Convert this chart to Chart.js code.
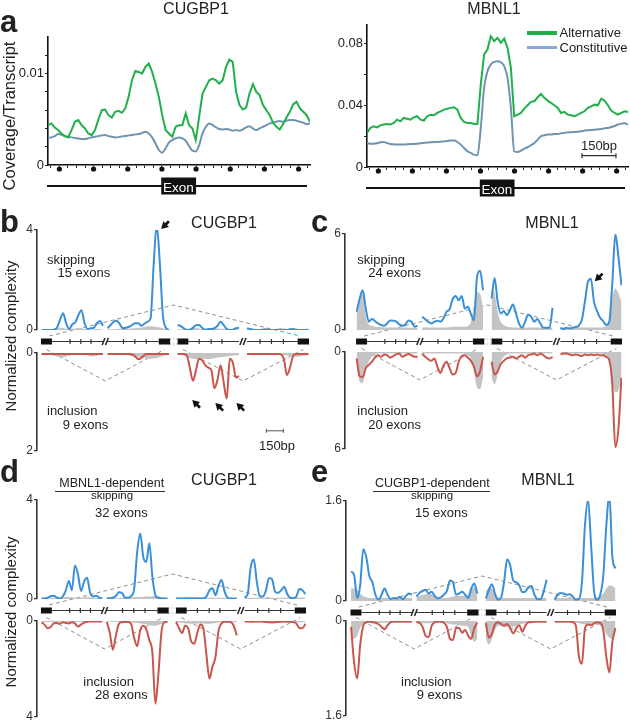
<!DOCTYPE html>
<html><head><meta charset="utf-8">
<script src="https://cdn.jsdelivr.net/npm/chart.js@4/dist/chart.umd.min.js"></script>
<style>
html,body{margin:0;padding:0;background:#fff;}
#fig{position:relative;width:630px;height:725px;overflow:hidden;font-family:"Liberation Sans",Arial,Helvetica,sans-serif;color:#222;}
#fig canvas{position:absolute;}
.t{position:absolute;white-space:nowrap;line-height:1;}
</style></head><body><div id="fig"></div>
<script>
// ===================== DATA =====================
// Panel a: coverage per transcript, sampled evenly from -500 bp to +650 bp around the exon start
const aRangeBp = [-500, 650];
const cugbp1Alternative = [0.00436,0.00455,0.00411,0.00382,0.00345,0.00316,0.00302,0.00382,0.00473,0.00491,
 0.00436,0.0040,0.00345,0.00327,0.00382,0.00498,0.0060,0.00607,0.00545,0.0052,
 0.00582,0.00593,0.00571,0.00618,0.00745,0.00927,0.01029,0.01018,0.0100,0.01073,
 0.01109,0.01018,0.00891,0.00745,0.00545,0.00382,0.00345,0.00309,0.00418,0.00436,
 0.00436,0.00564,0.00436,0.0040,0.00273,0.00527,0.00782,0.00855,0.00927,0.00945,
 0.00927,0.00891,0.00927,0.01073,0.01153,0.01127,0.0080,0.00655,0.00607,0.00629,
 0.00782,0.00884,0.0080,0.00764,0.00655,0.0060,0.00545,0.00462,0.00418,0.00389,
 0.00447,0.0052,0.00582,0.00665,0.00691,0.00618,0.00582,0.00545,0.00473];
const cugbp1Constitutive = [0.00298,0.00302,0.00316,0.00338,0.00331,0.00316,0.00309,0.00302,0.00295,0.00291,
 0.00284,0.00284,0.00291,0.00302,0.00309,0.00316,0.00324,0.00327,0.00316,0.00309,
 0.00302,0.00305,0.00313,0.00316,0.00324,0.00327,0.00335,0.00338,0.00349,0.00364,
 0.00345,0.00302,0.00236,0.00164,0.00135,0.00182,0.00244,0.00273,0.00291,0.00302,
 0.00291,0.00265,0.00207,0.00156,0.00149,0.00218,0.00345,0.00418,0.00455,0.00436,
 0.00411,0.00393,0.00389,0.00393,0.00389,0.00375,0.00382,0.00375,0.00389,0.00411,
 0.00425,0.0040,0.00382,0.0040,0.00418,0.00436,0.00455,0.00462,0.00473,0.0048,
 0.00473,0.00484,0.00491,0.00491,0.00484,0.00473,0.00462,0.00447,0.00455];
const mbnl1Alternative = [0.0221,0.0253,0.0264,0.0257,0.0270,0.0275,0.0279,0.0275,0.0285,0.0307,
 0.0296,0.0318,0.0313,0.0307,0.0322,0.0329,0.0307,0.0301,0.0329,0.0339,
 0.0335,0.0350,0.0361,0.0372,0.0378,0.0383,0.0387,0.0372,0.0318,0.0292,
 0.0285,0.0285,0.0279,0.0279,0.0534,0.0729,0.0761,0.0848,0.0815,0.0837,
 0.0804,0.0832,0.0772,0.0642,0.0329,0.0339,0.0350,0.0378,0.0400,0.0422,
 0.0426,0.0452,0.0473,0.0448,0.0430,0.0415,0.0400,0.0383,0.0350,0.0357,
 0.0339,0.0335,0.0329,0.0339,0.0350,0.0361,0.0383,0.0393,0.0404,0.0400,
 0.0443,0.0430,0.0400,0.0365,0.0350,0.0339,0.0350,0.0361,0.0357];
const mbnl1Constitutive = [0.0156,0.0151,0.0151,0.0154,0.0160,0.0162,0.0156,0.0149,0.0147,0.0145,
 0.0145,0.0145,0.0147,0.0149,0.0149,0.0151,0.0154,0.0156,0.0158,0.0160,
 0.0162,0.0162,0.0164,0.0166,0.0169,0.0171,0.0171,0.0162,0.0145,0.0123,
 0.0102,0.0091,0.0080,0.0076,0.0253,0.0512,0.0621,0.0664,0.0681,0.0685,
 0.0679,0.0653,0.0577,0.0383,0.0102,0.0097,0.0106,0.0119,0.0128,0.0141,
 0.0156,0.0177,0.0199,0.0205,0.0210,0.0210,0.0214,0.0214,0.0218,0.0221,
 0.0225,0.0225,0.0227,0.0229,0.0231,0.0236,0.0238,0.0240,0.0242,0.0244,
 0.0246,0.0251,0.0253,0.0259,0.0266,0.0275,0.0281,0.0283,0.0275];
const aLeftTicks = [0,0.002,0.004,0.006,0.008,0.01,0.012];
const aLeftTickLabels = ['0','','','','','0.01',''];
const aRightTicks = [0,0.02,0.04,0.06,0.08];
const aRightTickLabels = ['0','','0.04','','0.08'];
const aLegend = ['Alternative','Constitutive'];

// Panels b-e: normalized complexity, 4 regions (upstream exon/intron, intron/alt exon, alt exon/intron, intron/downstream exon)
// each region sampled evenly with 21 points
const bSkipping = [
 [0,0,0,0,0.01,0.09,0.4,0.67,0.27,0.04,0.23,0.31,0.6,0.79,0.27,0.04,0.07,0.09,0.27,0.36,0.17],
 [0.07,0.2,0.33,0.37,0.23,0.07,0.09,0.13,0.2,0.27,0.27,0.17,0.25,0.33,0.47,2.6,4.2,2.7,0.6,0.09,0],
 [0.2,0.16,0.07,0,0.01,0.09,0.19,0.2,0.09,0.01,0.04,0.04,0.07,0.17,0.33,0.2,0.04,0,0.01,0.07,0.09],
 [0.07,0.04,0.01,0,0,0.01,0.03,0.01,0,0,0.01,0.02,0.01,0,0.03,0.04,0.01,0,0,0,0.01]];
const bSkippingBackground = [
 [0,0,0.01,0.03,0.05,0.08,0.1,0.08,0.05,0.04,0.05,0.06,0.08,0.07,0.04,0.02,0.02,0.03,0.04,0.03,0.02],
 [0.02,0.03,0.03,0.04,0.05,0.06,0.05,0.05,0.06,0.07,0.08,0.1,0.12,0.15,0.15,0.14,0.12,0.1,0.07,0.04,0.02],
 [0.03,0.03,0.04,0.05,0.06,0.08,0.07,0.06,0.05,0.05,0.06,0.07,0.07,0.06,0.05,0.05,0.04,0.03,0.03,0.03,0.03],
 [0.02,0.02,0.02,0.02,0.02,0.02,0.03,0.03,0.03,0.02,0.02,0.03,0.03,0.04,0.05,0.05,0.05,0.04,0.03,0.03,0.03]];
const bInclusion = [
 [0.02,0.02,0.02,0.02,0.02,0.02,0.02,0.02,0.02,0.02,0.02,0.02,0.02,0.02,0.02,0.02,0.02,0.02,0.02,0.02,0.02],
 [0.02,0.02,0.02,0.02,0.02,0.02,0.02,0.02,0.03,0.07,0.13,0.1,0.04,0.02,0.02,0.02,0.02,0.02,0.02,0.02,0.02],
 [0.02,0.02,0.02,0.05,0.3,0.57,0.35,0.12,0.15,0.25,0.3,0.35,0.72,0.55,0.25,0.6,0.93,0.12,0.2,0.5,0.47],
 [0.02,0.02,0.02,0.02,0.02,0.02,0.02,0.02,0.02,0.02,0.02,0.03,0.12,0.45,0.3,0.06,0.02,0.02,0.02,0.02,0.02]];
const bInclusionBackground = [
 [0.01,0.02,0.03,0.04,0.05,0.07,0.09,0.09,0.07,0.05,0.04,0.04,0.04,0.03,0.04,0.05,0.07,0.07,0.05,0.03,0.02],
 [0.02,0.02,0.03,0.03,0.03,0.04,0.04,0.05,0.06,0.07,0.08,0.09,0.1,0.12,0.12,0.11,0.1,0.08,0.06,0.04,0.03],
 [0.02,0.03,0.05,0.08,0.1,0.12,0.13,0.13,0.12,0.12,0.13,0.12,0.1,0.09,0.08,0.08,0.07,0.06,0.05,0.05,0.04],
 [0.02,0.02,0.02,0.02,0.02,0.03,0.03,0.03,0.03,0.03,0.03,0.03,0.04,0.05,0.06,0.07,0.08,0.07,0.06,0.05,0.04]];

const cSkipping = [
 [1.14,1.97,2.48,1.34,0.52,0.68,0.56,0.41,0.31,0.27,0.41,0.6,0.58,0.52,0.35,0.27,0.35,0.6,0.52,0.21,0.27],
 [0.83,0.68,0.52,0.41,0.52,0.58,0.52,0.72,1.14,1.3,1.92,2.13,1.86,2.13,1.34,1.45,1.0,0.6,3.3,3.7,2.48],
 [1.97,3.25,1.76,1.03,1.18,0.93,1.24,1.59,1.03,0.41,0.14,0.52,0.97,0.83,0.52,0.68,0.41,0.14,0.14,0.14,1.39],
 [0.14,0.06,0.14,0.1,0.14,0.19,0.27,0.62,1.76,3.0,3.2,1.76,1.18,0.77,0.56,0.31,0.5,2.9,6.0,4.6,2.8]];
const cSkippingBackground = [
 [0.93,2.07,2.28,0.83,0.35,0.27,0.2,0.18,0.17,0.16,0.15,0.15,0.15,0.15,0.15,0.15,0.15,0.14,0.14,0.14,0.14],
 [0.15,0.15,0.15,0.15,0.15,0.15,0.15,0.15,0.16,0.17,0.2,0.2,0.2,0.2,0.2,0.25,0.52,1.55,2.38,2.28,1.34],
 [2.59,2.28,1.14,0.52,0.31,0.2,0.17,0.16,0.15,0.15,0.15,0.15,0.15,0.15,0.15,0.15,0.15,0.15,0.15,0.15,0.15],
 [0.15,0.15,0.15,0.15,0.15,0.15,0.15,0.15,0.15,0.15,0.15,0.15,0.15,0.15,0.17,0.25,0.52,1.97,2.59,2.28,1.76]];
const cInclusion = [
 [0.4,1.5,1.55,1.0,0.8,0.6,0.35,0.2,0.3,0.15,0.2,0.35,0.25,0.15,0.1,0.3,0.2,0.12,0.2,0.3,0.3],
 [0.1,0.3,0.45,0.55,0.4,0.9,1.3,0.85,0.6,1.0,1.4,1.3,0.6,0.25,0.2,0.35,0.55,0.9,1.5,1.2,0.3],
 [0.6,1.4,1.2,0.75,0.55,0.4,0.35,0.3,0.4,0.3,0.2,0.35,0.2,0.15,0.1,0.2,0.1,0.2,0.35,0.4,0.3],
 [0.15,0.1,0.1,0.15,0.2,0.15,0.2,0.25,0.15,0.2,0.15,0.2,0.15,0.2,0.2,0.3,0.5,2.0,5.9,4.8,1.6]];
const cInclusionBackground = [
 [0.8,1.83,1.93,1.12,0.6,0.3,0.15,0.1,0.1,0.1,0.1,0.1,0.1,0.1,0.1,0.1,0.1,0.1,0.1,0.1,0.1],
 [0.1,0.1,0.1,0.1,0.1,0.1,0.1,0.1,0.1,0.1,0.1,0.1,0.1,0.1,0.12,0.2,0.4,1.2,2.2,2.3,1.6],
 [1.6,2.0,1.4,0.6,0.3,0.15,0.1,0.1,0.1,0.1,0.1,0.1,0.1,0.1,0.1,0.1,0.1,0.1,0.1,0.1,0.1],
 [0.1,0.1,0.1,0.1,0.1,0.1,0.1,0.1,0.1,0.1,0.1,0.1,0.1,0.1,0.12,0.2,0.5,2.0,2.5,2.4,1.6]];

const dSkipping = [
 [0.02,0.02,0.05,0.11,0.13,0.06,0.02,0.1,0.35,0.73,0.35,1.35,1.0,0.32,0.7,0.86,0.25,0.1,0.13,0.05,0.02],
 [0.03,0.03,0.05,0.12,0.27,0.25,0.05,0.05,0.12,0.4,1.9,2.65,1.7,1.5,2.25,0.9,0.15,0.05,0.02,0.02,0.02],
 [0.02,0.02,0.02,0.02,0.02,0.02,0.02,0.02,0.02,0.03,0.1,0.35,0.43,0.15,0.55,0.77,0.3,0.05,0.02,0.02,0.02],
 [0.05,0.2,1.3,1.6,0.7,0.1,0.1,0.35,0.85,0.8,0.3,0.25,0.35,0.5,0.2,0.05,0.03,0.1,0.4,0.35,0.2]];
const dSkippingBackground = [
 [0.02,0.02,0.02,0.03,0.04,0.05,0.06,0.07,0.08,0.08,0.07,0.06,0.06,0.05,0.06,0.07,0.06,0.05,0.04,0.03,0.02],
 [0.02,0.02,0.03,0.03,0.04,0.05,0.05,0.06,0.06,0.07,0.08,0.08,0.09,0.1,0.1,0.11,0.12,0.1,0.07,0.05,0.03],
 [0.03,0.04,0.05,0.06,0.07,0.08,0.08,0.07,0.06,0.05,0.05,0.05,0.05,0.05,0.05,0.05,0.04,0.04,0.04,0.04,0.04],
 [0.04,0.04,0.05,0.05,0.05,0.05,0.05,0.05,0.05,0.05,0.05,0.05,0.05,0.05,0.05,0.05,0.05,0.06,0.06,0.06,0.05]];
const dInclusion = [
 [0.05,0.15,0.3,0.25,0.1,0.08,0.12,0.05,0.08,0.1,0.05,0.1,0.23,0.15,0.07,0.03,0.02,0.02,0.02,0.02,0.02],
 [0.03,0.5,1.2,0.6,0.12,0.05,0.04,0.04,0.12,0.7,1.05,0.4,0.2,0.35,0.8,1.3,3.45,2.2,0.45,0.05,0.03],
 [0.03,0.3,0.5,0.2,0.3,0.85,0.95,0.5,0.15,0.3,1.4,2.4,1.9,1.5,0.4,0.1,0.03,0.03,0.05,0.2,0.6],
 [0.02,0.02,0.03,0.03,0.02,0.02,0.03,0.04,0.05,0.06,0.05,0.04,0.03,0.02,0.02,0.03,0.05,0.1,0.3,0.3,0.12]];
const dInclusionBackground = [
 [0.03,0.04,0.05,0.05,0.05,0.04,0.04,0.05,0.05,0.05,0.05,0.04,0.04,0.04,0.04,0.04,0.03,0.03,0.03,0.03,0.03],
 [0.03,0.03,0.03,0.04,0.04,0.05,0.05,0.05,0.06,0.07,0.08,0.1,0.12,0.15,0.18,0.2,0.2,0.17,0.12,0.08,0.05],
 [0.05,0.06,0.08,0.1,0.1,0.12,0.12,0.1,0.1,0.1,0.12,0.12,0.1,0.08,0.06,0.05,0.05,0.05,0.05,0.05,0.05],
 [0.03,0.03,0.03,0.03,0.03,0.03,0.03,0.03,0.03,0.04,0.04,0.04,0.05,0.06,0.07,0.08,0.08,0.07,0.06,0.05,0.04]];

const eSkipping = [
 [0.47,0.42,0.05,0.25,0.83,0.7,0.4,0.3,0.1,0.02,0.1,0.2,0.1,0.03,0.05,0.04,0.07,0.03,0.08,0.12,0.1],
 [0.07,0.13,0.16,0.18,0.12,0.15,0.08,0.04,0.06,0.1,0.16,0.33,0.3,0.1,0.12,0.15,0.1,0.05,0.2,0.28,0.12],
 [0.04,0.17,0.27,0.12,0.02,0.05,0.3,0.67,0.57,0.33,0.3,0.25,0.14,0.15,0.22,0.24,0.1,0.03,0.03,0.15,0.34],
 [0.02,0.1,0.13,0.12,0.1,0.11,0.07,0.02,0.03,0.3,1.22,1.62,0.9,0.15,0.02,0.1,0.4,1.2,1.72,0.7,0.52]];
const eSkippingBackground = [
 [0.2,0.2,0.18,0.12,0.08,0.06,0.05,0.05,0.05,0.05,0.05,0.05,0.05,0.05,0.05,0.05,0.05,0.05,0.05,0.05,0.05],
 [0.06,0.08,0.1,0.11,0.12,0.11,0.09,0.07,0.06,0.05,0.05,0.06,0.07,0.08,0.08,0.08,0.08,0.1,0.18,0.22,0.18],
 [0.15,0.22,0.2,0.12,0.06,0.05,0.05,0.05,0.05,0.05,0.05,0.05,0.05,0.05,0.05,0.05,0.05,0.05,0.05,0.05,0.05],
 [0.05,0.05,0.05,0.05,0.05,0.05,0.05,0.05,0.05,0.05,0.05,0.05,0.05,0.05,0.06,0.08,0.12,0.2,0.25,0.24,0.2]];
const eInclusion = [
 [0.1,0.7,0.97,0.4,0.08,0.02,0.01,0.02,0.03,0.05,0.1,0.14,0.07,0.02,0.01,0.01,0.01,0.01,0.01,0.01,0.01],
 [0.01,0.03,0.1,0.25,0.27,0.08,0.02,0.01,0.01,0.03,0.1,0.3,0.32,0.12,0.12,0.2,0.15,0.25,0.3,0.12,0.03],
 [0.03,0.28,0.22,0.06,0.02,0.05,0.08,0.05,0.12,0.21,0.12,0.07,0.18,0.08,0.02,0.02,0.01,0.01,0.01,0.01,0.01],
 [0.01,0.01,0.01,0.01,0.01,0.01,0.02,0.08,0.6,0.72,0.12,0.06,0.07,0.04,0.02,0.03,0.15,0.6,0.87,0.35,0.12]];
const eInclusionBackground = [
 [0.25,0.3,0.25,0.12,0.06,0.04,0.03,0.03,0.03,0.03,0.03,0.03,0.03,0.03,0.03,0.03,0.03,0.03,0.03,0.03,0.03],
 [0.05,0.05,0.04,0.04,0.04,0.04,0.03,0.03,0.03,0.03,0.04,0.05,0.06,0.06,0.07,0.08,0.08,0.1,0.25,0.35,0.3],
 [0.3,0.4,0.3,0.15,0.08,0.08,0.1,0.1,0.1,0.1,0.08,0.06,0.05,0.04,0.03,0.03,0.03,0.03,0.03,0.03,0.03],
 [0.03,0.03,0.03,0.03,0.03,0.03,0.03,0.03,0.04,0.05,0.05,0.05,0.05,0.05,0.06,0.08,0.1,0.22,0.28,0.3,0.2]];

const bTicks = {upper:[0,4], lower:[0,2]};
const cTicks = {upper:[0,6], lower:[0,6]};
const dTicks = {upper:[0,4], lower:[0,4]};
const eTicks = {upper:[0,1.6], lower:[0,1.6]};

// ===================== LAYOUT / STYLE =====================
const GREEN = '#1fb04b', CONSTC = '#6f94b0', LEGCON = '#8aaad6', BLUE = '#3a90d8', RED = '#c9564c', GRAY = '#c4c4c4', INK = '#222';
const A_EXON = [-3, 150];               // bp, exon in panel a
const A_TICKS = []; for (let v = -487.5; v < 650; v += 37.5) A_TICKS.push(v);
const SEG_START = [0, 580, 1195, 1805], SEG_LEN = 540, X_MAX = 2350;
const EXON_BOX = [[-5, 92], [1030, 1130], [1195, 1290], [2250, 2350]];
const INTRONS = [[92, 540], [580, 1030], [1290, 1735], [1805, 2250]];
const INTRON_TICKS = [250, 345, 435, 720, 820, 920, 1385, 1490, 1585, 1920, 2020, 2125];
const BREAKS = [560, 1770];

Chart.defaults.font.family = '"Liberation Sans", Arial, Helvetica, sans-serif';
const fig = document.getElementById('fig');

function mkCanvas(l, t, w, h) {
  const c = document.createElement('canvas');
  c.width = w; c.height = h;
  c.style.left = l + 'px'; c.style.top = t + 'px';
  c.style.width = w + 'px'; c.style.height = h + 'px';
  fig.appendChild(c); return c;
}
function line(ctx, x0, y0, x1, y1) { ctx.beginPath(); ctx.moveTo(x0, y0); ctx.lineTo(x1, y1); ctx.stroke(); }
function drawArrow(ctx, tx, ty, ux, uy) {
  const L = Math.hypot(ux, uy); ux /= L; uy /= L;
  const px = -uy, py = ux;
  ctx.fillStyle = '#111'; ctx.strokeStyle = '#111';
  ctx.beginPath(); ctx.moveTo(tx, ty);
  ctx.lineTo(tx + ux * 7 + px * 4, ty + uy * 7 + py * 4);
  ctx.lineTo(tx + ux * 7 - px * 4, ty + uy * 7 - py * 4);
  ctx.closePath(); ctx.fill();
  ctx.lineWidth = 2.6; line(ctx, tx + ux * 5, ty + uy * 5, tx + ux * 11, ty + uy * 11);
}

function evenPoints(vals, range) {
  return vals.map((v, i) => ({x: range[0] + i * (range[1] - range[0]) / (vals.length - 1), y: v}));
}
function segPoints(segs) {
  const pts = [];
  segs.forEach((vals, s) => {
    vals.forEach((v, i) => pts.push({x: SEG_START[s] + i * SEG_LEN / (vals.length - 1), y: v}));
    if (s < segs.length - 1) pts.push({x: SEG_START[s] + SEG_LEN + 1, y: null});
  });
  return pts;
}

// ===================== PANEL a =====================
function aChart(o) {
  const cv = mkCanvas(o.left, o.top, o.w, o.h);
  return new Chart(cv, {
    type: 'line',
    data: {datasets: [
      {label: aLegend[0], data: evenPoints(o.alt, aRangeBp), borderColor: GREEN, borderWidth: 2, tension: 0, fill: false},
      {label: aLegend[1], data: evenPoints(o.con, aRangeBp), borderColor: CONSTC, borderWidth: 2, cubicInterpolationMode: 'monotone', fill: false}
    ]},
    options: {
      responsive: false, animation: false, devicePixelRatio: 1, maintainAspectRatio: false,
      layout: {padding: {top: o.padTop, right: o.padRight, bottom: 0, left: 0}},
      plugins: {legend: {display: false}, tooltip: {enabled: false}},
      elements: {point: {radius: 0}},
      scales: {
        x: {type: 'linear', min: aRangeBp[0], max: aRangeBp[1],
            afterBuildTicks: s => { s.ticks = A_TICKS.map(v => ({value: v})); },
            afterFit: s => { s.height = 35; },
            ticks: {display: false, autoSkip: false},
            grid: {drawOnChartArea: false, drawTicks: true, tickLength: 3, color: '#222', lineWidth: 1},
            border: {color: '#111', width: 1.6}},
        y: {type: 'linear', min: 0, max: o.yMax,
            afterBuildTicks: s => { s.ticks = o.ticks.map(v => ({value: v})); },
            afterFit: s => { s.width = o.yW; },
            ticks: {callback: (v, i) => o.labels[i], font: {size: 13}, color: '#222', padding: 1, autoSkip: false},
            grid: {drawOnChartArea: false, drawTicks: true, tickLength: 3, color: '#222', lineWidth: 1},
            border: {color: '#111', width: 1.6}}
      }
    },
    plugins: [{id: 'aDecor', afterDraw(chart) {
      const {ctx, chartArea: a, scales: {x}} = chart;
      ctx.save();
      ctx.fillStyle = '#111';
      A_TICKS.filter(v => v % 150 === 0).forEach(v => {
        ctx.beginPath(); ctx.arc(x.getPixelForValue(v), a.bottom + 4, 2.6, 0, Math.PI * 2); ctx.fill();
      });
      const yR = a.bottom + 21;
      ctx.strokeStyle = '#111'; ctx.lineWidth = 2;
      line(ctx, a.left - 1, yR, a.right - 3, yR);
      const x0 = x.getPixelForValue(A_EXON[0]), x1 = x.getPixelForValue(A_EXON[1]);
      ctx.fillRect(x0, yR - 8.5, x1 - x0, 17);
      if (o.scaleBar) {
        const y = a.bottom - 11.3, s0 = x.getPixelForValue(o.scaleBar), s1 = x.getPixelForValue(o.scaleBar + 150);
        ctx.strokeStyle = '#333'; ctx.lineWidth = 1.2;
        line(ctx, s0, y, s1, y); line(ctx, s0, y - 2.5, s0, y + 2.5); line(ctx, s1, y - 2.5, s1, y + 2.5);
      }
      ctx.restore();
    }}]
  });
}
aChart({left: 0, top: 20, w: 315, h: 180, padTop: 17, padRight: 5, yW: 48, yMax: 0.014,
        ticks: aLeftTicks, labels: aLeftTickLabels, alt: cugbp1Alternative, con: cugbp1Constitutive});
aChart({left: 315, top: 8, w: 315, h: 194, padTop: 17, padRight: 2, yW: 52, yMax: 0.092,
        ticks: aRightTicks, labels: aRightTickLabels, alt: mbnl1Alternative, con: mbnl1Constitutive, scaleBar: 447});

// ===================== PANELS b-e =====================
const PANELS = [
  {skip: bSkipping, skipBg: bSkippingBackground, incl: bInclusion, inclBg: bInclusionBackground, ticks: bTicks,
   axisX: 37, xMin: -40, areaW: 272, up: [230, 330], lo: [353, 451],
   arrowsUp: [{x: 1051, y: 4.04, d: [1, -1]}],
   arrowsLo: [{x: 1324, y: 0.96, d: [1, 1]}, {x: 1527, y: 1.02, d: [1, 1]}, {x: 1712, y: 1.02, d: [1, 1]}],
   scaleBar: 1975},
  {skip: cSkipping, skipBg: cSkippingBackground, incl: cInclusion, inclBg: cInclusionBackground, ticks: cTicks,
   axisX: 345, xMin: -103, areaW: 277, up: [234, 330], lo: [352, 449],
   arrowsUp: [{x: 2109, y: 3.04, d: [1, -1]}], arrowsLo: []},
  {skip: dSkipping, skipBg: dSkippingBackground, incl: dInclusion, inclBg: dInclusionBackground, ticks: dTicks,
   axisX: 37, xMin: -40, areaW: 269, up: [500, 599], lo: [621, 717], arrowsUp: [], arrowsLo: []},
  {skip: eSkipping, skipBg: eSkippingBackground, incl: eInclusion, inclBg: eInclusionBackground, ticks: eTicks,
   axisX: 346, xMin: -45, areaW: 270, up: [501, 601], lo: [621, 716], arrowsUp: [], arrowsLo: []}
];

function upperDecor(P) {
  return {id: 'upDecor',
    beforeDatasetsDraw(chart) {
      const {ctx, chartArea: a, scales: {x}} = chart;
      ctx.save(); ctx.setLineDash([4, 3]); ctx.strokeStyle = '#8f8f8f'; ctx.lineWidth = 1;
      ctx.beginPath();
      ctx.moveTo(x.getPixelForValue(EXON_BOX[0][1] - 25), a.bottom + 6);
      ctx.lineTo(x.getPixelForValue((EXON_BOX[1][1] + EXON_BOX[2][0]) / 2), a.bottom - 25);
      ctx.lineTo(x.getPixelForValue(EXON_BOX[3][0] + 20), a.bottom + 6);
      ctx.stroke(); ctx.restore();
    },
    afterDraw(chart) {
      const {ctx, chartArea: a, scales: {x, y}} = chart;
      const px = v => x.getPixelForValue(v);
      const yr = a.bottom + 11.5;
      ctx.save();
      ctx.strokeStyle = '#333'; ctx.lineWidth = 1.2;
      INTRONS.forEach(([s, e]) => line(ctx, px(s), yr, px(e), yr));
      INTRON_TICKS.forEach(t => line(ctx, px(t), yr - 2.5, px(t), yr + 2.5));
      ctx.lineWidth = 1.5; ctx.strokeStyle = '#222';
      BREAKS.forEach(b => { const c = px(b); [-1.7, 1.7].forEach(d => line(ctx, c + d - 1.4, yr + 3.5, c + d + 1.4, yr - 3.5)); });
      ctx.setLineDash([1, 2]); ctx.strokeStyle = '#999'; ctx.lineWidth = 1;
      line(ctx, px(EXON_BOX[1][1]), yr - 2.5, px(EXON_BOX[2][0]), yr - 2.5);
      line(ctx, px(EXON_BOX[1][1]), yr + 2.5, px(EXON_BOX[2][0]), yr + 2.5);
      ctx.setLineDash([]);
      ctx.fillStyle = '#111';
      EXON_BOX.forEach(([s, e]) => ctx.fillRect(px(s), yr - 3, px(e) - px(s), 6));
      P.arrowsUp.forEach(ar => drawArrow(ctx, px(ar.x), y.getPixelForValue(ar.y), ar.d[0], ar.d[1]));
      ctx.restore();
    }};
}
function lowerDecor(P) {
  return {id: 'loDecor',
    beforeDatasetsDraw(chart) {
      const {ctx, chartArea: a, scales: {x}} = chart;
      const px = v => x.getPixelForValue(v);
      const mid = b => (b[0] + b[1]) / 2;
      ctx.save(); ctx.setLineDash([4, 3]); ctx.strokeStyle = '#8f8f8f'; ctx.lineWidth = 1;
      [[EXON_BOX[0], BREAKS[0], EXON_BOX[1]], [EXON_BOX[2], BREAKS[1], EXON_BOX[3]]].forEach(([b0, br, b1]) => {
        ctx.beginPath();
        ctx.moveTo(px(mid(b0)), a.top - 3.5);
        ctx.lineTo(px(br), a.top + 28);
        ctx.lineTo(px(mid(b1)), a.top - 3.5);
        ctx.stroke();
      });
      ctx.restore();
    },
    afterDraw(chart) {
      const {ctx, chartArea: a, scales: {x, y}} = chart;
      const px = v => x.getPixelForValue(v);
      ctx.save();
      P.arrowsLo.forEach(ar => drawArrow(ctx, px(ar.x), y.getPixelForValue(ar.y), ar.d[0], ar.d[1]));
      if (P.scaleBar) {
        const yy = a.bottom - 20, s0 = px(P.scaleBar), s1 = px(P.scaleBar + 150);
        ctx.strokeStyle = '#555'; ctx.lineWidth = 1;
        line(ctx, s0, yy, s1, yy); line(ctx, s0, yy - 2, s0, yy + 2); line(ctx, s1, yy - 2, s1, yy + 2);
      }
      ctx.restore();
    }};
}
function panelConfig(P, up) {
  const ticks = up ? P.ticks.upper : P.ticks.lower;
  return {
    type: 'line',
    data: {datasets: [
      {label: up ? 'skipping' : 'inclusion', data: segPoints(up ? P.skip : P.incl), borderColor: up ? BLUE : RED,
       borderWidth: 2, fill: false, cubicInterpolationMode: 'monotone'},
      {label: 'background', data: segPoints(up ? P.skipBg : P.inclBg), borderColor: 'rgba(0,0,0,0)', borderWidth: 0,
       backgroundColor: GRAY, fill: 'origin', cubicInterpolationMode: 'monotone'}
    ]},
    options: {
      responsive: false, animation: false, devicePixelRatio: 1, maintainAspectRatio: false,
      layout: {padding: up ? {top: 12, bottom: 30, left: 0, right: 4} : {top: 30, bottom: 8, left: 0, right: 4}},
      plugins: {legend: {display: false}, tooltip: {enabled: false}},
      elements: {point: {radius: 0}},
      scales: {
        x: {type: 'linear', display: false, min: P.xMin, max: X_MAX},
        y: {type: 'linear', min: ticks[0], max: ticks[ticks.length - 1], reverse: !up,
            afterBuildTicks: s => { s.ticks = ticks.map(v => ({value: v})); },
            afterFit: s => { s.width = 30; },
            ticks: {callback: (v, i) => String(ticks[i]), font: {size: 12}, color: '#333', padding: 1, autoSkip: false},
            grid: {drawOnChartArea: false, drawTicks: true, tickLength: 3, color: '#333', lineWidth: 1.2},
            border: {color: '#333', width: 1.6}}
      }
    },
    plugins: [up ? upperDecor(P) : lowerDecor(P)]
  };
}
PANELS.forEach(P => {
  const left = P.axisX - 30, w = 30 + P.areaW + 4;
  new Chart(mkCanvas(left, P.up[0] - 12, w, (P.up[1] - P.up[0]) + 42), panelConfig(P, true));
  new Chart(mkCanvas(left, P.lo[0] - 30, w, (P.lo[1] - P.lo[0]) + 38), panelConfig(P, false));
});

// ===================== TEXT =====================
function txt(s, x, base, size, o = {}) {
  const d = document.createElement('div');
  d.className = 't'; d.textContent = s;
  d.style.fontSize = size + 'px';
  d.style.top = (base - 0.8465 * size) + 'px';
  d.style.left = x + 'px';
  if (o.center) d.style.transform = 'translateX(-50%)';
  if (o.bold) d.style.fontWeight = 'bold';
  if (o.color) d.style.color = o.color;
  fig.appendChild(d); return d;
}
function vtxt(s, cx, cy, size) {
  const d = document.createElement('div');
  d.className = 't'; d.textContent = s;
  d.style.fontSize = size + 'px';
  d.style.left = cx + 'px'; d.style.top = cy + 'px';
  d.style.transform = 'translate(-50%,-50%) rotate(-90deg)';
  fig.appendChild(d); return d;
}
function box(l, t, w, h, bg) {
  const d = document.createElement('div');
  d.style.position = 'absolute'; d.style.left = l + 'px'; d.style.top = t + 'px';
  d.style.width = w + 'px'; d.style.height = h + 'px'; d.style.background = bg;
  fig.appendChild(d); return d;
}

// panel a
txt('a', 0, 32, 31, {bold: true});
txt('CUGBP1', 196, 14.5, 16, {center: true});
txt('MBNL1', 494, 14.5, 16, {center: true});
vtxt('Coverage/Transcript', 9, 116, 16.5);
box(527, 31, 30, 4, GREEN);
box(527, 46, 30, 2.5, LEGCON);
txt(aLegend[0], 559.5, 37.5, 13);
txt(aLegend[1], 559.5, 52, 13);
txt('150bp', 599, 150, 13, {center: true});
txt('Exon', 178.3, 192, 13.5, {center: true, color: '#fff'});
txt('Exon', 497, 194, 13.5, {center: true, color: '#fff'});

// panel b
txt('b', 0, 232, 31, {bold: true});
txt('CUGBP1', 224, 228.5, 16, {center: true});
txt('skipping', 47, 264.5, 13);
txt('15 exons', 57.5, 277.3, 13);
txt('inclusion', 47, 415, 13);
txt('9 exons', 62.7, 429.3, 13);
txt('150bp', 277, 450.5, 13, {center: true});
vtxt('Normalized complexity', 10, 336, 15);

// panel c
txt('c', 311, 232, 31, {bold: true});
txt('MBNL1', 552, 228.5, 16, {center: true});
txt('skipping', 357.3, 264.5, 13);
txt('24 exons', 368.3, 277.3, 13);
txt('inclusion', 357.3, 415, 13);
txt('20 exons', 368.3, 429.3, 13);

// panel d
txt('d', 0, 482, 31, {bold: true});
txt('MBNL1-dependent', 59.3, 488, 12.5);
box(55, 491, 110, 1, '#333');
txt('skipping', 112, 500, 11.5, {center: true});
txt('32 exons', 95, 517.5, 13);
txt('CUGBP1', 224, 486, 16, {center: true});
txt('inclusion', 83.3, 686, 13);
txt('28 exons', 95, 699.3, 13);
vtxt('Normalized complexity', 10, 612, 15);

// panel e
txt('e', 311, 482, 31, {bold: true});
txt('CUGBP1-dependent', 375, 488, 12.5);
box(373, 491, 117, 1, '#333');
txt('skipping', 432, 500, 11.5, {center: true});
txt('15 exons', 415, 517.5, 13);
txt('MBNL1', 548, 486, 16, {center: true});
txt('inclusion', 401, 686, 13);
txt('9 exons', 416.7, 699.3, 13);
</script></body></html>
